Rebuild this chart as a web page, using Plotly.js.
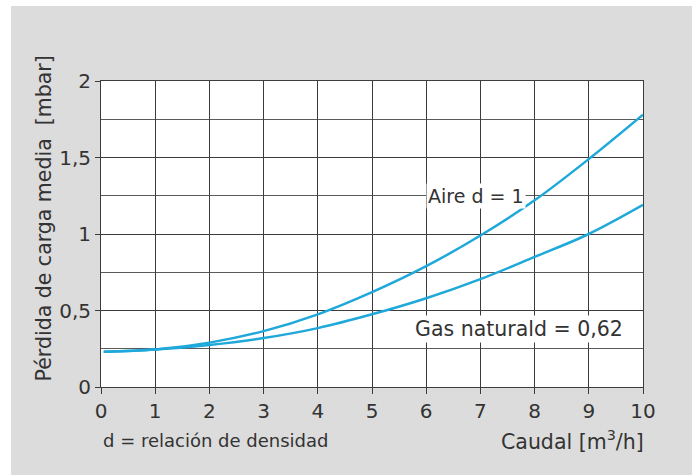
<!DOCTYPE html>
<html>
<head>
<meta charset="utf-8">
<script src="https://cdn.plot.ly/plotly-3.0.1.min.js"></script>
<style>
  html, body { margin: 0; padding: 0; background: #ffffff; width: 694px; height: 475px; overflow: hidden; }
  #chart { position: absolute; left: 11px; top: 6px; width: 681px; height: 469px; }
</style>
</head>
<body>
<div id="chart"></div>
<script>
// Data
const caudal = [0.05, 1, 2, 3, 4, 5, 6, 7, 8, 9, 10];
const aire = [0.23, 0.245, 0.29, 0.365, 0.475, 0.62, 0.79, 0.99, 1.22, 1.49, 1.78];
const gasNatural = [0.23, 0.245, 0.275, 0.32, 0.385, 0.475, 0.58, 0.705, 0.85, 1.0, 1.19];

const xTickVals = [0, 1, 2, 3, 4, 5, 6, 7, 8, 9, 10];
const xTickText = ["0", "1", "2", "3", "4", "5", "6", "7", "8", "9", "10"];
const yTickVals = [0, 0.5, 1, 1.5, 2];
const yTickText = ["0", "0,5", "1", "1,5", "2"];

const yTitle = "Pérdida de carga media  [mbar]";
const xTitle = "Caudal [m<sup>3</sup>/h]";
const noteLeft = "d = relación de densidad";
const labelAire = "Aire d = 1";
const labelGas = "Gas naturald = 0,62";

const lineColor = "#1fa8da";
const textColor = "#333333";
const gridColor = "#3c3c3c";
const fontFam = "'DejaVu Sans', sans-serif";

const traces = [
  { x: caudal, y: aire, mode: "lines", line: { color: lineColor, width: 2.5, shape: "spline" }, hoverinfo: "skip", name: "Aire" },
  { x: caudal, y: gasNatural, mode: "lines", line: { color: lineColor, width: 2.5, shape: "spline" }, hoverinfo: "skip", name: "Gas natural" }
];

const layout = {
  width: 681, height: 469,
  paper_bgcolor: "#dcdcdc",
  plot_bgcolor: "#ffffff",
  showlegend: false,
  margin: { l: 90, r: 49, t: 75, b: 88, pad: 0 },
  font: { family: fontFam, size: 19, color: textColor },
  xaxis: {
    range: [0, 10], tickvals: xTickVals, ticktext: xTickText,
    showgrid: true, gridcolor: gridColor, gridwidth: 1,
    zeroline: false, showline: true, linecolor: gridColor, linewidth: 1, mirror: true,
    ticks: "outside", ticklen: 6, tickcolor: gridColor,
    tickfont: { family: fontFam, size: 20, color: textColor }, fixedrange: true
  },
  yaxis: {
    range: [0, 2], tickvals: yTickVals, ticktext: yTickText,
    showgrid: true, gridcolor: gridColor, gridwidth: 1,
    minor: { dtick: 0.25, tick0: 0, showgrid: true, gridcolor: "#5a5a5a", gridwidth: 1 },
    zeroline: false, showline: true, linecolor: gridColor, linewidth: 1, mirror: true,
    ticks: "outside", ticklen: 5, tickcolor: gridColor,
    tickfont: { family: fontFam, size: 20, color: textColor }, fixedrange: true
  },
  annotations: [
    { text: yTitle, xref: "paper", yref: "paper", x: 0, y: 0.551, xshift: -57, textangle: -90,
      xanchor: "center", yanchor: "middle", showarrow: false, font: { family: fontFam, size: 20.5, color: textColor } },
    { text: noteLeft, xref: "paper", yref: "paper", x: 0, y: 0, xshift: 0, yshift: -53,
      xanchor: "left", yanchor: "middle", showarrow: false, font: { family: fontFam, size: 18, color: textColor } },
    { text: xTitle, xref: "paper", yref: "paper", x: 1, y: 0, xshift: 3, yshift: -53,
      xanchor: "right", yanchor: "middle", showarrow: false, font: { family: fontFam, size: 20.5, color: textColor } },
    { text: labelAire, xref: "x", yref: "y", x: 6.0, y: 1.25, xanchor: "left", yanchor: "middle",
      showarrow: false, bgcolor: "#ffffff", borderpad: 1, font: { family: fontFam, size: 19, color: textColor } },
    { text: labelGas, xref: "x", yref: "y", x: 5.75, y: 0.377, xanchor: "left", yanchor: "middle",
      showarrow: false, bgcolor: "#ffffff", borderpad: 1, font: { family: fontFam, size: 20.5, color: textColor } }
  ]
};

Plotly.newPlot("chart", traces, layout, { staticPlot: true, displayModeBar: false });
</script>
</body>
</html>
